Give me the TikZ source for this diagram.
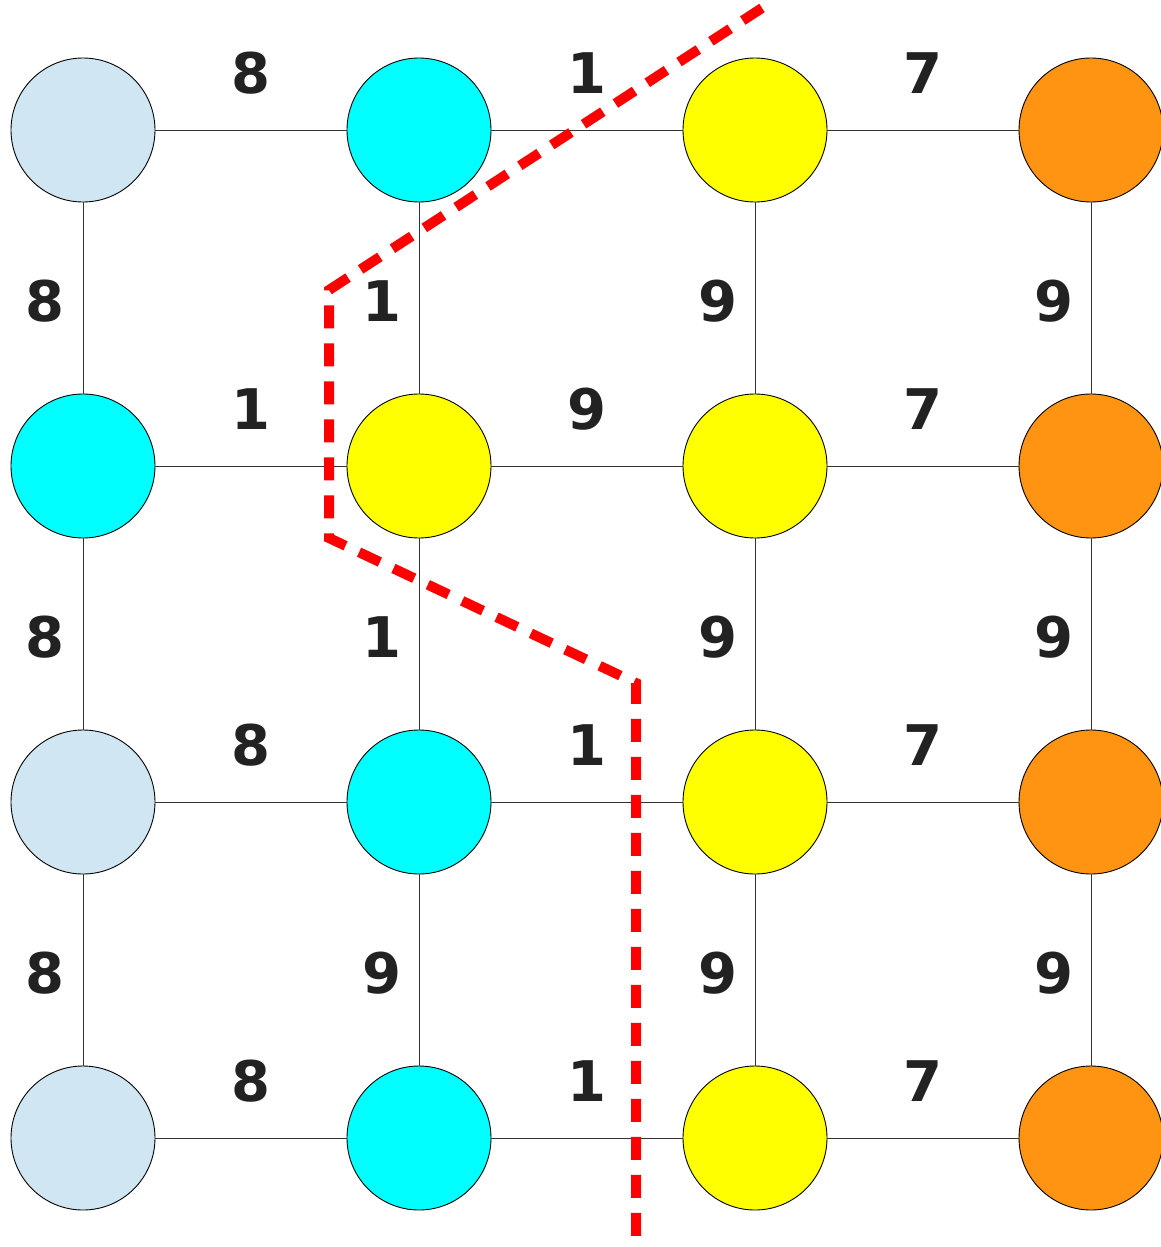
\documentclass[tikz,border=0pt]{standalone}
\usepackage{fontspec}
\setmainfont{DejaVu Sans}
\usepackage{tikz}
\usetikzlibrary{positioning}
\definecolor{PaleC}{RGB}{208,230,243}
\definecolor{CyanC}{RGB}{0,255,255}
\definecolor{YelC}{RGB}{255,255,0}
\definecolor{OrgC}{RGB}{255,148,18}
\definecolor{LabC}{RGB}{34,34,34}
\definecolor{CutC}{RGB}{255,0,0}
\tikzset{
  vert/.style={circle,draw=black,line width=0.9pt,minimum size=144pt,inner sep=0pt},
  pale/.style={vert,fill=PaleC},
  cy/.style={vert,fill=CyanC},
  ye/.style={vert,fill=YelC},
  og/.style={vert,fill=OrgC},
  link/.style={line width=0.9pt,black!80},
  wt/.style={inner sep=0pt,text=LabC,font=\fontsize{56}{60}\selectfont\bfseries},
  cut/.style={line width=10pt,CutC,dash pattern=on 23pt off 15pt},
}

\begin{document}
\begin{tikzpicture}[x=1pt,y=-1pt]
  \useasboundingbox (0,0) rectangle (1160,1247);

  % row 1
  \node[pale] (a1) at (83,130)   {};
  \node[cy]   (b1) at (419,130)  {};
  \node[ye]   (c1) at (755,130)  {};
  \node[og]   (d1) at (1091,130) {};
  % row 2
  \node[cy]   (a2) at (83,466)   {};
  \node[ye]   (b2) at (419,466)  {};
  \node[ye]   (c2) at (755,466)  {};
  \node[og]   (d2) at (1091,466) {};
  % row 3
  \node[pale] (a3) at (83,802)   {};
  \node[cy]   (b3) at (419,802)  {};
  \node[ye]   (c3) at (755,802)  {};
  \node[og]   (d3) at (1091,802) {};
  % row 4
  \node[pale] (a4) at (83,1138)  {};
  \node[cy]   (b4) at (419,1138) {};
  \node[ye]   (c4) at (755,1138) {};
  \node[og]   (d4) at (1091,1138) {};

  \draw[link] (a1) -- (b1);  \draw[link] (b1) -- (c1);  \draw[link] (c1) -- (d1);
  \draw[link] (a2) -- (b2);  \draw[link] (b2) -- (c2);  \draw[link] (c2) -- (d2);
  \draw[link] (a3) -- (b3);  \draw[link] (b3) -- (c3);  \draw[link] (c3) -- (d3);
  \draw[link] (a4) -- (b4);  \draw[link] (b4) -- (c4);  \draw[link] (c4) -- (d4);
  \draw[link] (a1) -- (a2);  \draw[link] (a2) -- (a3);  \draw[link] (a3) -- (a4);
  \draw[link] (b1) -- (b2);  \draw[link] (b2) -- (b3);  \draw[link] (b3) -- (b4);
  \draw[link] (c1) -- (c2);  \draw[link] (c2) -- (c3);  \draw[link] (c3) -- (c4);
  \draw[link] (d1) -- (d2);  \draw[link] (d2) -- (d3);  \draw[link] (d3) -- (d4);

  % horizontal weights
  \node[wt] (h11) at (251,73)  {8};
  \node[wt] (h12) at (587,73)  {1};
  \node[wt] (h13) at (923,73)  {7};
  \node[wt] (h21) at (251,409) {1};
  \node[wt] (h22) at (587,409) {9};
  \node[wt] (h23) at (923,409) {7};
  \node[wt] (h31) at (251,745) {8};
  \node[wt] (h32) at (587,745) {1};
  \node[wt] (h33) at (923,745) {7};
  \node[wt] (h41) at (251,1081) {8};
  \node[wt] (h42) at (587,1081) {1};
  \node[wt] (h43) at (923,1081) {7};
  % vertical weights
  \node[wt] (v11) at (45,301)   {8};
  \node[wt] (v12) at (382,301)  {1};
  \node[wt] (v13) at (718,301)  {9};
  \node[wt] (v14) at (1054,301) {9};
  \node[wt] (v21) at (45,637)   {8};
  \node[wt] (v22) at (382,637)  {1};
  \node[wt] (v23) at (718,637)  {9};
  \node[wt] (v24) at (1054,637) {9};
  \node[wt] (v31) at (45,973)   {8};
  \node[wt] (v32) at (382,973)  {9};
  \node[wt] (v33) at (718,973)  {9};
  \node[wt] (v34) at (1054,973) {9};

  % the cut
  \coordinate (k0) at (762,8);
  \coordinate (k1) at (329,290);
  \coordinate (k2) at (329,538);
  \coordinate (k3) at (636,683);
  \coordinate (k4) at (636,1250);
  \draw[cut] (k0) -- (k1) -- (k2) -- (k3) -- (k4);
\end{tikzpicture}
\end{document}
